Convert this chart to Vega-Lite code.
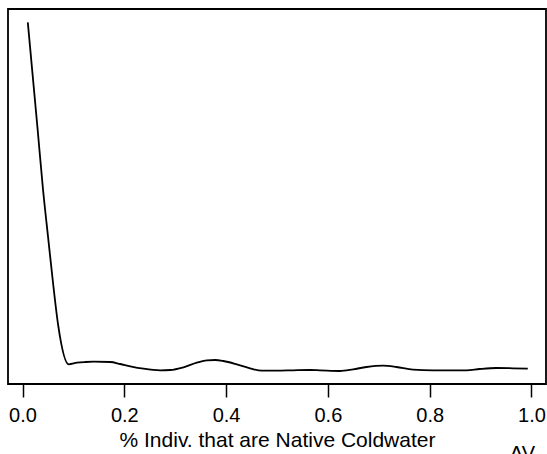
{
  "$schema": "https://vega.github.io/schema/vega-lite/v6.json",
  "width": 538,
  "height": 375,
  "autosize": {"type": "none"},
  "padding": {"left": 8, "top": 9, "right": 1, "bottom": 70},
  "background": "white",
  "config": {
    "font": "Liberation Sans",
    "view": {"stroke": "black", "strokeWidth": 1.8}
  },
  "title": {
    "text": "AV",
    "orient": "bottom",
    "anchor": "end",
    "fontSize": 20,
    "fontWeight": "normal",
    "color": "black",
    "offset": -6,
    "dx": -11
  },
  "data": {
    "values": [
      {"x": 0.0104, "y": 18.085},
      {"x": 0.03, "y": 12.65},
      {"x": 0.04, "y": 9.8},
      {"x": 0.05, "y": 7.4},
      {"x": 0.06, "y": 5.05},
      {"x": 0.07, "y": 2.95},
      {"x": 0.0908, "y": 0.985},
      {"x": 0.107, "y": 1.065},
      {"x": 0.1235, "y": 1.1},
      {"x": 0.1398, "y": 1.115},
      {"x": 0.1725, "y": 1.1},
      {"x": 0.192, "y": 1.0},
      {"x": 0.2118, "y": 0.885},
      {"x": 0.2378, "y": 0.765},
      {"x": 0.2706, "y": 0.685},
      {"x": 0.29, "y": 0.7},
      {"x": 0.3163, "y": 0.835},
      {"x": 0.3425, "y": 1.065},
      {"x": 0.3622, "y": 1.185},
      {"x": 0.3784, "y": 1.2},
      {"x": 0.3947, "y": 1.15},
      {"x": 0.421, "y": 0.985},
      {"x": 0.447, "y": 0.785},
      {"x": 0.47, "y": 0.665},
      {"x": 0.4994, "y": 0.665},
      {"x": 0.532, "y": 0.685},
      {"x": 0.5647, "y": 0.7},
      {"x": 0.5843, "y": 0.685},
      {"x": 0.6235, "y": 0.65},
      {"x": 0.6496, "y": 0.735},
      {"x": 0.6759, "y": 0.85},
      {"x": 0.7084, "y": 0.915},
      {"x": 0.7347, "y": 0.85},
      {"x": 0.7673, "y": 0.715},
      {"x": 0.8065, "y": 0.685},
      {"x": 0.872, "y": 0.685},
      {"x": 0.898, "y": 0.75},
      {"x": 0.9308, "y": 0.8},
      {"x": 0.9633, "y": 0.785},
      {"x": 0.9927, "y": 0.765}
    ]
  },
  "mark": {"type": "line", "color": "black", "strokeWidth": 1.8, "interpolate": "monotone"},
  "encoding": {
    "x": {
      "field": "x",
      "type": "quantitative",
      "scale": {"domain": [-0.0285, 1.0285], "nice": false, "zero": false},
      "axis": {
        "title": "% Indiv. that are Native Coldwater",
        "values": [0, 0.2, 0.4, 0.6, 0.8, 1.0],
        "format": ".1f",
        "domain": false,
        "grid": false,
        "ticks": true,
        "tickSize": 13,
        "tickWidth": 1.5,
        "tickColor": "black",
        "labelFontSize": 20,
        "labelColor": "black",
        "labelPadding": 8,
        "labelFlush": false,
        "labelOverlap": false,
        "titleFontSize": 21,
        "titleFontWeight": "normal",
        "titleColor": "black",
        "titlePadding": 4
      }
    },
    "y": {
      "field": "y",
      "type": "quantitative",
      "scale": {"domain": [0, 18.75], "nice": false, "zero": false},
      "axis": null
    }
  }
}
